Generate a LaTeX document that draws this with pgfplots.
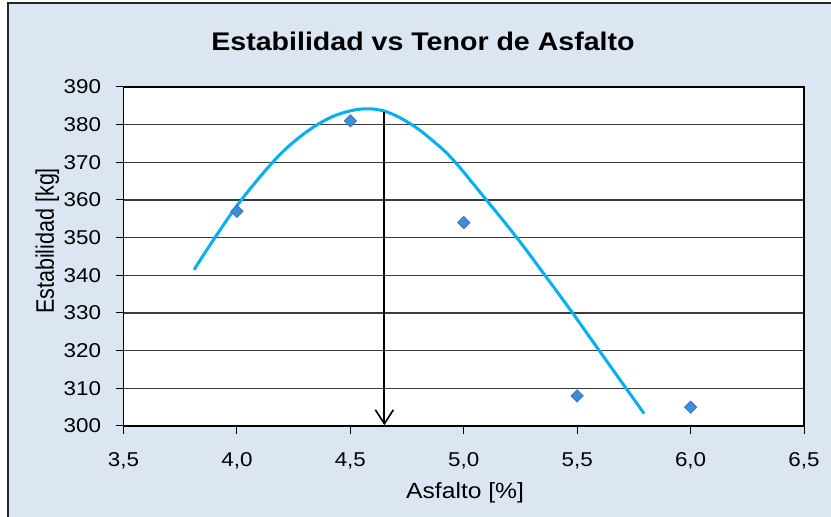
\documentclass[border=0pt]{standalone}
\usepackage{fontspec}
\setmainfont{Liberation Sans}[FakeStretch=1.12]
\newfontfamily\plainsans{Liberation Sans}
\usepackage{graphicx}
\usepackage{pgfplots}
\pgfplotsset{compat=1.18}
\usetikzlibrary{arrows.meta}

\definecolor{chartbg}{HTML}{DCE6F2}
\definecolor{trendcyan}{HTML}{00B0F0}
\definecolor{markfill}{HTML}{3A8FDC}
\definecolor{markedge}{HTML}{4A6DB5}
\definecolor{gridgray}{HTML}{3C3C3C}

\begin{document}
\begin{tikzpicture}[x=1bp,y=1bp]
\useasboundingbox (0,0) rectangle (831,517);
% chart area and its frame
\fill[chartbg] (8,0) rectangle (831,514);
\draw[line width=2.2bp, black!85] (8,-2) -- (8,514) -- (833,514);
% title
\node[font=\fontsize{25.5bp}{30bp}\selectfont\bfseries] at (423,476) {Estabilidad vs Tenor de Asfalto};

\begin{axis}[
  at={(123.5bp,91bp)}, anchor=south west,
  scale only axis, width=680.5bp, height=339bp,
  xmin=3.5, xmax=6.5, ymin=300, ymax=390,
  xtick={3.5,4,4.5,5,5.5,6,6.5},
  ytick={300,310,...,390},
  xtick pos=bottom, ytick pos=left,
  tick align=outside, major tick length=8bp,
  tick style={black, line width=1bp},
  axis line style={black, line width=1.8bp},
  axis background/.style={fill=white},
  ymajorgrids,
  major grid style={gridgray, line width=1.2bp},
  /pgf/number format/assume math mode=true,
  xticklabel style={yshift=-15bp, /pgf/number format/.cd, use comma, fixed, fixed zerofill, precision=1},
  yticklabel style={xshift=-11bp, /pgf/number format/.cd, fixed, precision=0, 1000 sep={}},
  ticklabel style={font=\fontsize{20bp}{24bp}\selectfont},
  xlabel={Asfalto [\%]},
  ylabel={\scalebox{1}[1.18]{\plainsans Estabilidad [kg]}},
  xlabel style={font=\fontsize{22bp}{26bp}\selectfont, at={(axis description cs:0.502,-0.198)}, anchor=center},
  ylabel style={font=\fontsize{21.5bp}{25bp}\selectfont, at={(axis description cs:-0.112,0.546)}, anchor=center, rotate=0},
]
% polynomial trend line
\addplot[trendcyan, line width=3bp, smooth, tension=0.6] coordinates {
  (3.811,341.5) (3.903,350.0) (4.014,359.6) (4.153,369.7) (4.250,375.4)
  (4.352,379.9) (4.450,382.8) (4.560,384.2) (4.660,383.4) (4.771,380.0)
  (4.870,375.4) (4.954,370.6) (5.100,360.0) (5.234,350.0) (5.358,340.0)
  (5.481,329.9) (5.594,320.3) (5.711,310.4) (5.795,303.3)
};
% measured stability
\addplot[only marks, mark=square*, mark size=4.3bp,
  mark options={rotate=45, fill=markfill, draw=markedge, line width=0.8bp}] coordinates {
  (4.0,357) (4.5,381) (5.0,354) (5.5,308) (6.0,305)
};
% optimum asphalt content
\addplot[black, line width=1.8bp, -{Straight Barb[length=14bp, width=18bp, line width=1.6bp]}]
  coordinates {(4.65,383.4) (4.65,300.2)};
\end{axis}
\end{tikzpicture}
\end{document}
